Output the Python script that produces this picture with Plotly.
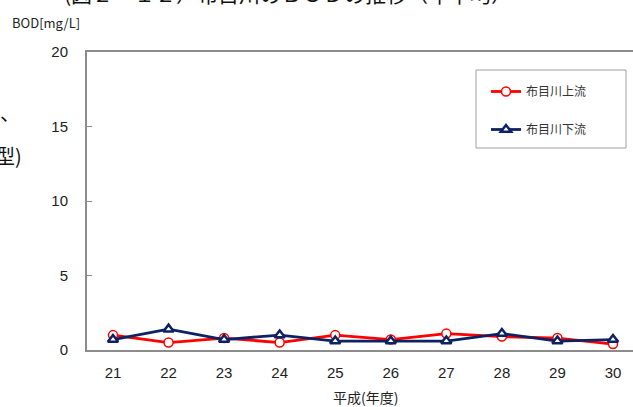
import plotly.graph_objects as go

years = ["21", "22", "23", "24", "25", "26", "27", "28", "29", "30"]
upstream = [1.0, 0.5, 0.8, 0.5, 1.0, 0.7, 1.1, 0.9, 0.8, 0.4]
downstream = [0.7, 1.4, 0.7, 1.0, 0.6, 0.6, 0.6, 1.1, 0.6, 0.7]
name_up = "布目川上流"
name_down = "布目川下流"
y_ticks = [0, 5, 10, 15, 20]

W, H = 633, 407
L, R, T, B = 87, 0, 52, 57
pw, ph = W - L - R, H - T - B

def px(x):
    return (x - L) / pw

def py(y):
    return (H - B - y) / ph

JP = "Noto Sans CJK JP"
NUM = "Liberation Sans, Arial, sans-serif"

fig = go.Figure()
fig.add_trace(go.Scatter(
    x=years, y=upstream, name=name_up, mode="lines+markers",
    line=dict(color="#FF0000", width=2.8),
    marker=dict(symbol="circle", size=9, color="white",
                line=dict(color="#FF0000", width=1.5)),
    legendgroup="a",
))
fig.add_trace(go.Scatter(
    x=years, y=downstream, name=name_down, mode="lines+markers",
    line=dict(color="#0D2263", width=2.8),
    marker=dict(symbol="triangle-up", size=9, color="white",
                line=dict(color="#0D2263", width=2.5)),
    legendgroup="b",
))

fig.update_layout(
    width=W, height=H,
    margin=dict(l=L, r=R, t=T, b=B),
    paper_bgcolor="white", plot_bgcolor="white",
    showlegend=True,
    legend=dict(
        x=px(486), y=py(77), xanchor="left", yanchor="top",
        bgcolor="rgba(0,0,0,0)", borderwidth=0,
        font=dict(family=JP, size=12, color="#333333"),
        tracegroupgap=19, traceorder="grouped",
    ),
    xaxis=dict(
        type="category", range=[-0.468, 9.36],
        showline=True, linecolor="#8C8C8C", linewidth=2, mirror=True,
        ticks="", showgrid=False, zeroline=False,
        tickfont=dict(family=NUM, size=15, color="#222222"),
        ticklabelstandoff=8,
    ),
    yaxis=dict(
        range=[0, 20], tickvals=y_ticks,
        showline=True, linecolor="#8C8C8C", linewidth=2, mirror=False,
        ticks="inside", ticklen=5, tickcolor="#8C8C8C", tickwidth=1,
        showgrid=False, zeroline=False,
        tickfont=dict(family=NUM, size=15, color="#222222"),
        ticklabelstandoff=14,
    ),
    shapes=[dict(
        type="rect", xref="paper", yref="paper",
        x0=px(476), x1=px(626), y0=py(148), y1=py(70),
        line=dict(color="#A0A0A0", width=1), fillcolor="rgba(0,0,0,0)",
        layer="above",
    )],
    annotations=[
        dict(text="BOD[mg/L]", xref="paper", yref="paper",
             x=px(10), y=py(22), xanchor="left", yanchor="middle",
             showarrow=False, font=dict(family=JP, size=13, color="#222222")),
        dict(text="平成(年度)", xref="paper", yref="paper",
             x=px(365), y=py(397), xanchor="center", yanchor="middle",
             showarrow=False, font=dict(family=JP, size=14, color="#222222")),
        dict(text="(図２－１２）布目川のＢＯＤの推移（年平均）", xref="paper", yref="paper",
             x=px(62), y=py(-7), xanchor="left", yanchor="middle",
             showarrow=False, font=dict(family=JP, size=21, color="#111111")),
        dict(text="、", xref="paper", yref="paper",
             x=px(-2), y=py(112), xanchor="left", yanchor="middle",
             showarrow=False, font=dict(family=JP, size=20, color="#111111")),
        dict(text="型)", xref="paper", yref="paper",
             x=px(24), y=py(155), xanchor="right", yanchor="middle",
             showarrow=False, font=dict(family=JP, size=20, color="#111111")),
    ],
)

fig.write_html("out.html",
               config={"displayModeBar": False},
               post_script="document.body.style.margin='0';document.body.style.overflow='hidden';")
